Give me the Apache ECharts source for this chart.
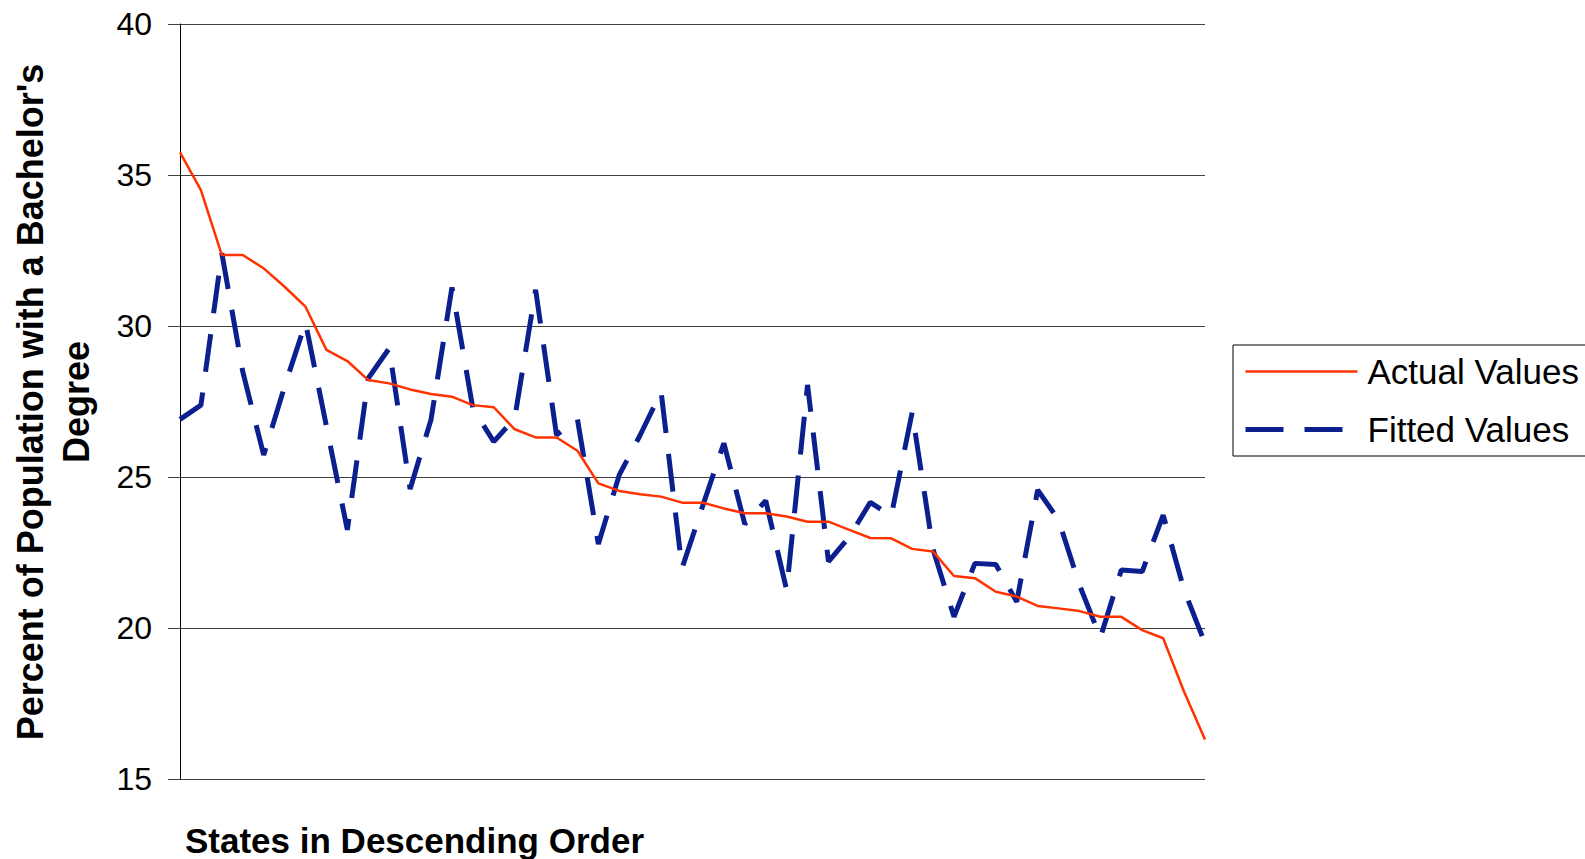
<!DOCTYPE html>
<html>
<head>
<meta charset="utf-8">
<script src="https://cdn.jsdelivr.net/npm/echarts@6/dist/echarts.min.js"></script>
<style>
  html, body { margin: 0; padding: 0; background: #fff; }
  #chart { width: 1585px; height: 859px; }
</style>
</head>
<body>
<div id="chart"></div>
<script>
// States ranked 1..50 in descending order of actual value
const categories = ["1","2","3","4","5","6","7","8","9","10",
  "11","12","13","14","15","16","17","18","19","20",
  "21","22","23","24","25","26","27","28","29","30",
  "31","32","33","34","35","36","37","38","39","40",
  "41","42","43","44","45","46","47","48","49","50"];

const actualValues = [35.75, 34.50, 32.35, 32.35, 31.91, 31.30, 30.64, 29.21, 28.84, 28.21,
  28.10, 27.90, 27.75, 27.66, 27.38, 27.31, 26.58, 26.31, 26.31, 25.87,
  24.79, 24.54, 24.43, 24.35, 24.15, 24.15, 23.96, 23.80, 23.80, 23.69,
  23.52, 23.52, 23.25, 22.98, 22.97, 22.62, 22.53, 21.72, 21.65, 21.20,
  21.04, 20.73, 20.65, 20.56, 20.37, 20.37, 19.93, 19.66, 17.89, 16.31];

const fittedValues = [26.91, 27.38, 32.41, 28.49, 25.73, 28.0, 30.11, 26.68, 23.25, 28.27,
  29.26, 24.6, 26.9, 31.28, 27.27, 26.17, 26.94, 31.2, 26.39, 26.91,
  22.78, 25.07, 26.39, 27.82, 21.98, 24.07, 26.12, 23.44, 24.22, 21.26,
  28.05, 22.2, 23.02, 24.16, 23.71, 27.14, 22.6, 20.37, 22.14, 22.1,
  20.87, 24.57, 23.58, 21.42, 19.68, 21.92, 21.87, 23.74, 21.26, 19.49];

const yTicks = [15, 20, 25, 30, 35, 40];
const seriesNames = ["Actual Values", "Fitted Values"];
const yTitle = "Percent of Population with a Bachelor's\nDegree";
const xTitle = "States in Descending Order";

const FONT = "'Liberation Sans', Arial, 'DejaVu Sans', sans-serif";

const chart = echarts.init(document.getElementById('chart'), null, { renderer: 'svg' });
chart.setOption({
  animation: false,
  backgroundColor: '#ffffff',
  grid: { left: 180, right: 380, top: 24, bottom: 80, containLabel: false },
  xAxis: {
    type: 'category',
    data: categories,
    boundaryGap: false,
    axisLine: { show: false },
    axisTick: { show: false },
    axisLabel: { show: false },
    splitLine: { show: false }
  },
  yAxis: {
    type: 'value',
    min: yTicks[0],
    max: yTicks[yTicks.length - 1],
    interval: 5,
    axisLine: { show: true, lineStyle: { color: '#000', width: 1 } },
    axisTick: { show: true, length: 12, inside: false, lineStyle: { color: '#404040', width: 1 } },
    axisLabel: { show: true, fontSize: 32, color: '#000', fontFamily: FONT, margin: 28 },
    splitLine: { show: true, lineStyle: { color: '#404040', width: 1 } }
  },
  legend: {
    orient: 'vertical',
    left: 1233,
    top: 345,
    data: seriesNames,
    selectedMode: false,
    borderColor: '#000',
    borderWidth: 1,
    padding: [9, 10, 9, 10],
    itemWidth: 112,
    itemHeight: 20,
    itemGap: 23,
    itemStyle: { opacity: 0, borderWidth: 0 },
    lineStyle: { width: 'inherit', type: 'inherit', opacity: 1 },
    textStyle: { fontSize: 35, lineHeight: 35, color: '#000', fontFamily: FONT, padding: [0, 0, 0, 5] }
  },
  graphic: [
    {
      type: 'text',
      x: 53,
      y: 402,
      rotation: Math.PI / 2,
      style: {
        text: yTitle,
        fontSize: 36,
        fontWeight: 'bold',
        fontFamily: FONT,
        lineHeight: 46,
        align: 'center',
        verticalAlign: 'middle',
        fill: '#000'
      }
    },
    {
      type: 'text',
      x: 185,
      y: 840,
      style: {
        text: xTitle,
        fontSize: 35,
        fontWeight: 'bold',
        fontFamily: FONT,
        align: 'left',
        verticalAlign: 'middle',
        fill: '#000'
      }
    }
  ],
  series: [
    {
      name: seriesNames[0],
      type: 'line',
      data: actualValues,
      symbol: 'none',
      showSymbol: false,
      color: '#ff3300',
      lineStyle: { color: '#ff3300', width: 2.5 },
      z: 3
    },
    {
      name: seriesNames[1],
      type: 'line',
      data: fittedValues,
      symbol: 'none',
      showSymbol: false,
      color: '#0b1f8f',
      lineStyle: { color: '#0b1f8f', width: 5, type: [38, 21], cap: 'butt' },
      z: 2
    }
  ]
});
</script>
</body>
</html>
